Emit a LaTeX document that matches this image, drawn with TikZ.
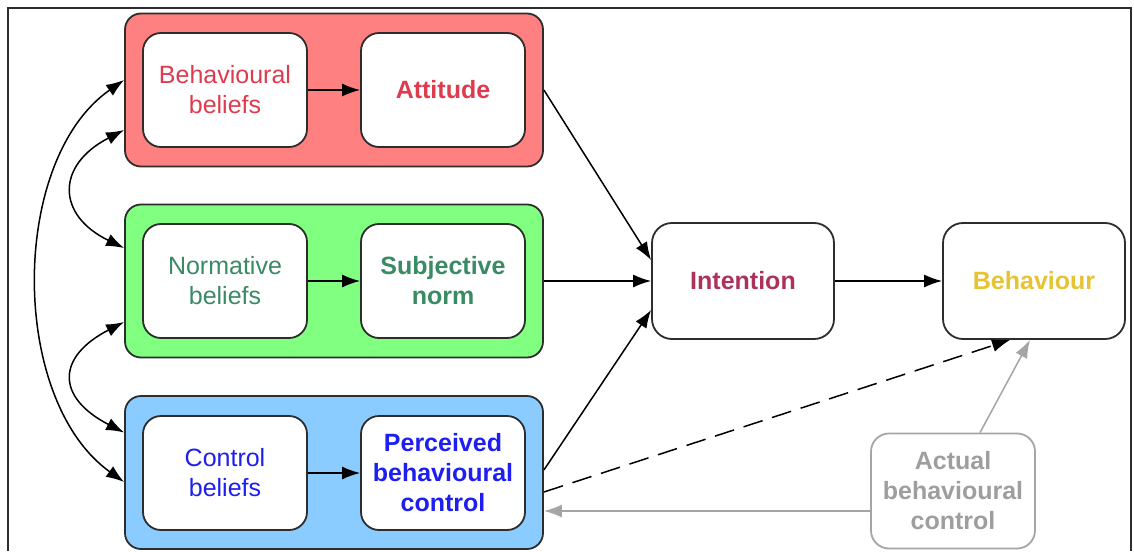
\documentclass[tikz,border=0pt]{standalone}
\usepackage{fontspec}
\setmainfont{Liberation Sans}
\usetikzlibrary{arrows.meta}
\definecolor{redfill}{RGB}{255,128,128}
\definecolor{greenfill}{RGB}{128,255,128}
\definecolor{bluefill}{RGB}{138,204,255}
\definecolor{redtext}{RGB}{222,60,78}
\definecolor{greentext}{RGB}{58,138,100}
\definecolor{bluetext}{RGB}{30,30,240}
\definecolor{inttext}{RGB}{172,50,92}
\definecolor{behtext}{RGB}{230,195,50}
\definecolor{graytext}{RGB}{158,158,158}
\definecolor{grayline}{RGB}{165,165,165}
\definecolor{edgecol}{RGB}{45,45,45}
\tikzset{
  x=0.5pt, y=-0.5pt,
  every node/.style={font=\fontsize{12.5}{15}\selectfont, align=center, inner sep=0pt},
  groupbox/.style={draw=edgecol, line width=0.9pt, rounded corners=8pt, minimum width=209pt, minimum height=76.5pt},
  innerbox/.style={draw=edgecol, line width=0.9pt, fill=white, rounded corners=9pt, minimum width=82pt, minimum height=57pt},
  bigbox/.style={draw=edgecol, line width=0.9pt, fill=white, rounded corners=10pt, minimum width=91pt, minimum height=58pt},
  arr/.style={line width=0.75pt, -{Latex[length=9pt,width=6.5pt]}},
  darr/.style={line width=0.75pt, {Latex[length=9pt,width=6.5pt]}-{Latex[length=9pt,width=6.5pt]}},
  grayarr/.style={line width=0.75pt, grayline, -{Latex[length=9pt,width=6.5pt]}},
}
\begin{document}
\begin{tikzpicture}
\useasboundingbox (0,0) rectangle (1134,551);
\fill[white] (0,0) rectangle (1134,551);
\draw[edgecol, line width=0.8pt] (8,551) -- (8,8) -- (1131,8) -- (1131,551);

% groups
\node[groupbox, fill=redfill] (red) at (334,90) {};
\node[groupbox, fill=greenfill] (green) at (334,281) {};
\node[groupbox, fill=bluefill] (blue) at (334,472.5) {};

% inner boxes
\node[innerbox, text=redtext] (bb) at (225,90) {Behavioural\\beliefs};
\node[innerbox, text=redtext, font=\fontsize{12.5}{15}\selectfont\bfseries] (att) at (443,90) {Attitude};
\node[innerbox, text=greentext] (nb) at (225,281) {Normative\\beliefs};
\node[innerbox, text=greentext, font=\fontsize{12.5}{15}\selectfont\bfseries] (sn) at (443,281) {Subjective\\norm};
\node[innerbox, text=bluetext] (cb) at (225,473) {Control\\beliefs};
\node[innerbox, text=bluetext, font=\fontsize{12.5}{15}\selectfont\bfseries] (pbc) at (443,473) {Perceived\\behavioural\\control};

\node[bigbox, text=inttext, font=\fontsize{12.5}{15}\selectfont\bfseries] (int) at (743,281) {Intention};
\node[bigbox, text=behtext, font=\fontsize{12.5}{15}\selectfont\bfseries] (beh) at (1034,281) {Behaviour};
\node[innerbox, draw=grayline, text=graytext, font=\fontsize{12.5}{15}\selectfont\bfseries, minimum height=57.5pt] (abc) at (953,491) {Actual\\behavioural\\control};

% inner arrows
\draw[arr] (bb) -- (att);
\draw[arr] (nb) -- (sn);
\draw[arr] (cb) -- (pbc);

% to intention
\draw[arr] (red.east) -- ([yshift=10.5pt]int.west);
\draw[arr] (green.east) -- (int.west);
\draw[arr] ([yshift=1.25pt]blue.east) -- ([yshift=-14.5pt]int.west);
\draw[arr] (int) -- (beh);

% dashed PBC -> behaviour
\draw[arr, dash pattern=on 10pt off 5pt] ([yshift=-9.75pt]blue.east) -- ([xshift=-12pt]beh.south);

% actual control
\draw[grayarr] ([xshift=13.5pt]abc.north) -- ([xshift=-2pt]beh.south);
\draw[grayarr] ([yshift=-10pt]abc.west) -- ([yshift=-10pt]abc.west -| blue.east);

% correlations
\draw[darr] ([yshift=5pt]red.west) .. controls +(-115,80) and +(-115,-82) .. ([yshift=-4.75pt]blue.west);
\draw[darr] ([yshift=-20pt]red.west) .. controls +(-68,35) and +(-68,-33) .. ([yshift=16.5pt]green.west);
\draw[darr] ([yshift=-20.5pt]green.west) .. controls +(-68,35) and +(-68,-35) .. ([yshift=20pt]blue.west);
\end{tikzpicture}
\end{document}
